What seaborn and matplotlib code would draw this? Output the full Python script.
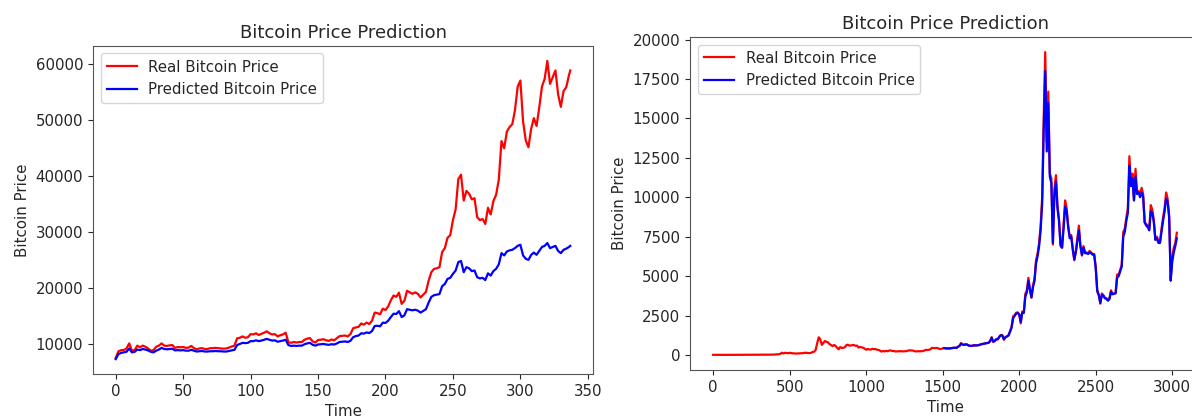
import numpy as np
import matplotlib
matplotlib.use("Agg")
import matplotlib.pyplot as plt
import seaborn as sns

# ---- Recent window (daily closes, sampled every 2 days) ----
recent_days = list(range(0, 337, 2)) + [337]
recent_real = [
    7500, 8700, 8900, 8900, 9200, 10100, 8800, 8900, 9700, 9400,
    9700, 9500, 9200, 8800, 8900, 9500, 9700, 10100, 9700, 9650,
    9750, 9800, 9300, 9450, 9400, 9450, 9300, 9350, 9650, 9250,
    9050, 9200, 9250, 9100, 9100, 9250, 9250, 9300, 9250, 9200,
    9150, 9200, 9350, 9550, 9700, 11000, 11100, 11350, 11100, 11200,
    11750, 11700, 11900, 11600, 11800, 12000, 12250, 11900, 11700, 11750,
    11350, 11550, 11700, 12000, 10300, 10200, 10350, 10250, 10350, 10350,
    10750, 10950, 11050, 10450, 10250, 10700, 10750, 10850, 10650, 10550,
    10800, 10650, 11050, 11400, 11450, 11500, 11350, 11750, 12800, 12950,
    13050, 13650, 13450, 13800, 13550, 14150, 15600, 15500, 15300, 16300,
    16050, 16700, 17800, 18650, 18400, 19150, 17150, 17700, 19500, 19200,
    18950, 19200, 18950, 18300, 18800, 19300, 21300, 22800, 23400, 23500,
    23700, 26400, 27100, 28950, 29400, 32100, 34000, 39400, 40200, 35600,
    37300, 36800, 35800, 36000, 32600, 32100, 32300, 31400, 34300, 33100,
    35500, 36600, 39300, 46200, 44900, 47900, 48700, 49200, 51700, 55900,
    57000, 49700, 46300, 45100, 48400, 50300, 48900, 52200, 55900, 57300,
    60500, 56400, 57600, 58800, 54500, 52300, 55100, 55800, 57900, 58800,
]
recent_pred = [
    7300, 8200, 8400, 8500, 8600, 9200, 8500, 8600, 9000, 8900,
    9100, 9000, 8850, 8600, 8500, 8800, 9000, 9300, 9100, 9050,
    9100, 9150, 8850, 8900, 8850, 8900, 8800, 8800, 8950, 8800,
    8650, 8700, 8750, 8650, 8650, 8700, 8700, 8750, 8700, 8700,
    8650, 8650, 8750, 8850, 8950, 9800, 10000, 10200, 10150, 10200,
    10500, 10500, 10650, 10500, 10600, 10750, 10900, 10750, 10600, 10650,
    10400, 10500, 10600, 10750, 9800, 9650, 9700, 9650, 9700, 9700,
    9950, 10100, 10200, 9850, 9700, 9900, 9950, 10000, 9900, 9850,
    9950, 9900, 10100, 10350, 10400, 10450, 10350, 10550, 11200, 11400,
    11500, 11900, 11850, 12050, 11950, 12300, 13200, 13250, 13150, 13800,
    13750, 14150, 14800, 15400, 15350, 15850, 14800, 15100, 16200, 16100,
    16000, 16100, 15950, 15600, 15900, 16200, 17400, 18400, 18700, 18800,
    18900, 20300, 20700, 21600, 21800, 22500, 23100, 24600, 24800, 22800,
    23700, 23500, 23000, 23100, 21900, 21700, 21800, 21400, 22600, 22200,
    23000, 23400, 24200, 26200, 25800, 26500, 26700, 26800, 27100, 27500,
    27700, 25800, 25200, 25000, 25900, 26300, 25900, 26600, 27300, 27500,
    28000, 27100, 27300, 27500, 26600, 26200, 26800, 27000, 27300, 27500,
]

# ---- Full history (sampled every 10 days) ----
history_days = list(range(0, 3031, 10))
history_real = [
    7, 6, 5.5, 6, 4.5, 5, 5, 4.7, 4.9, 4.9,
    5.1, 5, 5, 5.1, 5.2, 5.6, 6.4, 6.7, 7, 8.8,
    8.9, 11, 11.7, 10.9, 11, 11.9, 12.2, 11.8, 11.8, 10.6,
    10.9, 11.8, 12.4, 13.4, 13.3, 13.4, 13.4, 14.4, 17.4, 20.5,
    27, 30, 43, 47, 78, 143, 90, 140, 115, 114,
    131, 121, 100, 103, 80, 98, 95, 105, 107, 117,
    140, 133, 133, 115, 133, 186, 203, 330, 760, 1120,
    980, 640, 760, 880, 830, 800, 690, 630, 560, 630,
    570, 450, 360, 500, 445, 450, 490, 620, 650, 590,
    600, 620, 625, 580, 590, 470, 510, 480, 455, 400,
    330, 380, 350, 340, 390, 365, 375, 330, 320, 275,
    210, 250, 225, 255, 238, 272, 290, 248, 255, 220,
    226, 235, 237, 240, 224, 233, 241, 260, 290, 288,
    281, 265, 228, 227, 235, 230, 237, 247, 275, 325,
    310, 325, 360, 450, 440, 430, 448, 420, 378, 375,
    420, 437, 415, 410, 415, 420, 437, 455, 460, 440,
    530, 580, 750, 645, 640, 675, 655, 590, 575, 570,
    610, 607, 605, 612, 640, 680, 700, 712, 740, 755,
    780, 890, 1130, 820, 890, 1010, 995, 1170, 1270, 1245,
    965, 1140, 1180, 1250, 1510, 1780, 2450, 2520, 2680, 2700,
    2590, 2000, 2750, 2700, 3880, 4090, 4890, 4160, 3630, 4400,
    4830, 6000, 6450, 7100, 8200, 10000, 15000, 19200, 13500, 16700,
    11500, 11200, 7000, 10500, 11400, 9500, 8600, 6900, 6800, 8300,
    9800, 9300, 8200, 7500, 7600, 6700, 6000, 6600, 7400, 8200,
    6900, 6300, 6900, 6500, 6500, 6450, 6600, 6500, 6400, 6400,
    5600, 4000, 3800, 3250, 3900, 3800, 3600, 3600, 3450, 3600,
    4100, 3850, 3900, 3950, 5100, 5100, 5400, 5700, 7800, 8000,
    8700, 9300, 12600, 10800, 11500, 9800, 11800, 10300, 10400, 10100,
    10600, 10200, 8400, 8300, 8200, 8000, 9500, 9200, 8500, 7300,
    7500, 7200, 7200, 8000, 8700, 9300, 10300, 9900, 8800, 4850,
    6200, 6800, 7100, 7750,
]
test_days = list(range(1510, 3031, 10))
test_pred = [
    430, 420, 410, 412, 418, 432, 450, 457, 445,
    515, 570, 720, 660, 640, 668, 655, 598, 578, 572,
    600, 605, 604, 610, 632, 670, 692, 708, 732, 750,
    770, 870, 1080, 850, 880, 990, 995, 1140, 1240, 1235,
    990, 1110, 1165, 1235, 1460, 1720, 2330, 2470, 2620, 2650,
    2570, 2100, 2680, 2660, 3700, 3980, 4700, 4150, 3650, 4300,
    4700, 5800, 6250, 6900, 7900, 9600, 14200, 18000, 12900, 16000,
    11300, 10900, 7100, 10100, 11000, 9300, 8500, 7000, 6800, 8000,
    9400, 9100, 8100, 7400, 7500, 6700, 6050, 6500, 7200, 7900,
    6900, 6350, 6800, 6450, 6450, 6400, 6500, 6450, 6350, 6350,
    5500, 4100, 3800, 3300, 3800, 3750, 3600, 3550, 3450, 3550,
    4000, 3850, 3880, 3900, 4900, 5000, 5300, 5600, 7500, 7800,
    8500, 9000, 12000, 10700, 11200, 9800, 11300, 10200, 10300, 10000,
    10300, 10000, 8400, 8200, 8100, 7900, 9100, 9000, 8400, 7300,
    7400, 7100, 7100, 7800, 8500, 9100, 9900, 9700, 8700, 4700,
    5900, 6500, 6900, 7400,
]

TEXT = "#262626"
FS = 10.8
plt.rcParams.update({
    "text.color": TEXT,
    "axes.labelcolor": TEXT,
    "xtick.color": TEXT,
    "ytick.color": TEXT,
    "axes.edgecolor": "#555555",
    "font.size": FS,
})

W, H = 1192, 419
fig = plt.figure(figsize=(W / 100, H / 100), dpi=100)
fig.patch.set_facecolor("white")

ax1 = fig.add_axes([93 / W, (H - 374) / H, 500 / W, 328 / H])
ax2 = fig.add_axes([690 / W, (H - 370) / H, 510 / W, 333 / H])

panels = [
    (ax1, recent_days, recent_real, recent_days, recent_pred),
    (ax2, history_days, history_real, test_days, test_pred),
]
for ax, xr, yr, xp, yp in panels:
    sns.lineplot(x=np.array(xr), y=np.array(yr, dtype=float), ax=ax,
                 color="red", linewidth=1.6, label="Real Bitcoin Price")
    sns.lineplot(x=np.array(xp), y=np.array(yp, dtype=float), ax=ax,
                 color="blue", linewidth=1.6, label="Predicted Bitcoin Price")
    ax.set_title("Bitcoin Price Prediction", fontsize=13)
    ax.set_xlabel("Time", fontsize=FS)
    ax.set_ylabel("Bitcoin Price", fontsize=FS)
    ax.tick_params(labelsize=FS)
    ax.legend(loc="upper left", fontsize=FS)

ax1.set_yticks([10000, 20000, 30000, 40000, 50000, 60000])
ax1.set_xticks([0, 50, 100, 150, 200, 250, 300, 350])
ax2.set_yticks([0, 2500, 5000, 7500, 10000, 12500, 15000, 17500, 20000])
ax2.set_xticks([0, 500, 1000, 1500, 2000, 2500, 3000])

fig.savefig("out.png", dpi=100, facecolor="white")
